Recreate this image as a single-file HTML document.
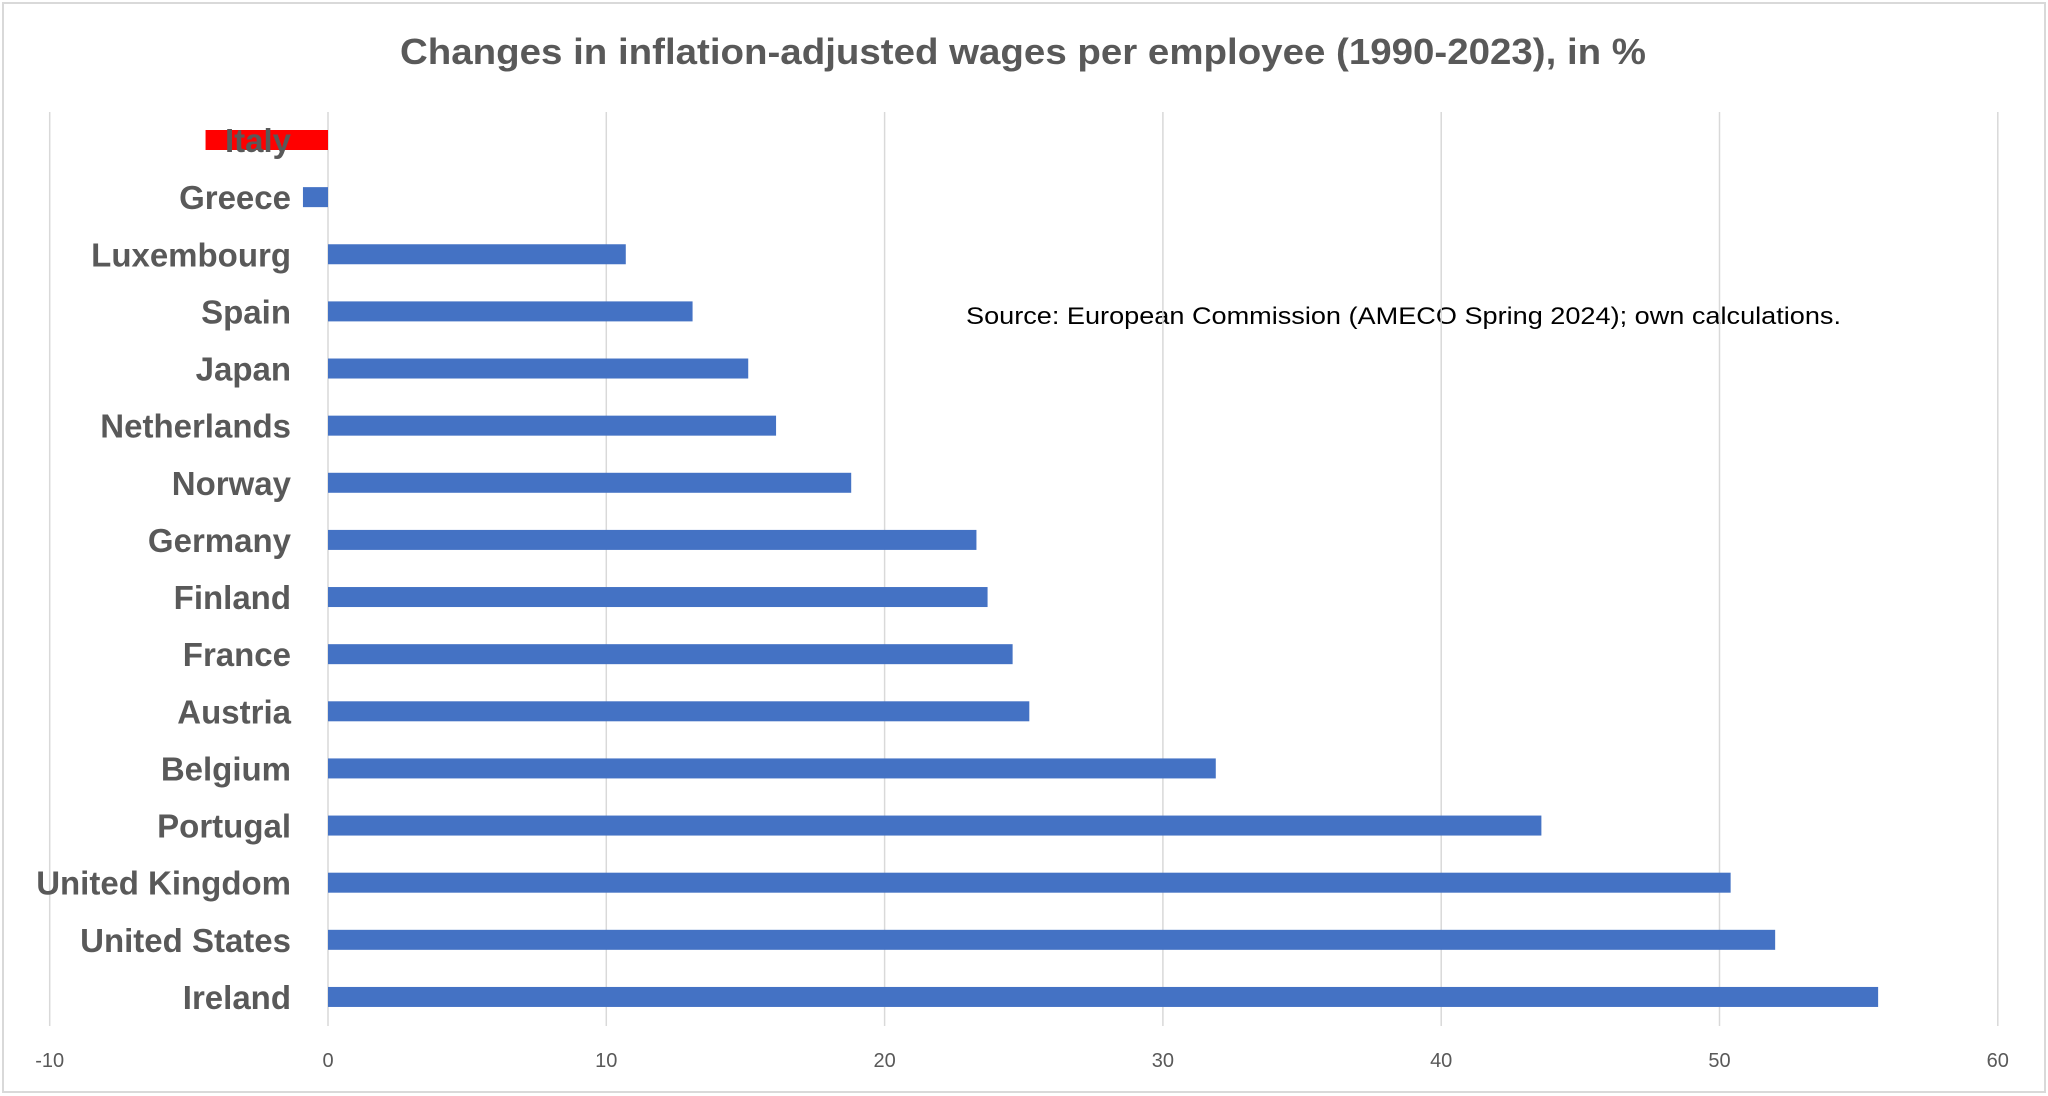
<!DOCTYPE html>
<html><head><meta charset="utf-8"><style>
html,body{margin:0;padding:0;background:#fff;}
svg{display:block;font-family:"Liberation Sans",sans-serif;}
</style></head><body>
<svg id="chart" width="2048" height="1096" viewBox="0 0 2048 1096" xmlns="http://www.w3.org/2000/svg">
<rect x="3" y="3" width="2042" height="1089" fill="#fff" stroke="#d9d9d9" stroke-width="2"/>
<text x="1023" y="64" text-anchor="middle" font-size="36" font-weight="bold" fill="#595959" textLength="1246" lengthAdjust="spacingAndGlyphs">Changes in inflation-adjusted wages per employee (1990-2023), in %</text>
<text x="966" y="324" font-size="24" fill="#000" textLength="875" lengthAdjust="spacingAndGlyphs">Source: European Commission (AMECO Spring 2024); own calculations.</text>
<g id="grid"></g><g id="bars"></g><g id="labels"></g><g id="ticks"></g>
</svg>
<script>
const countries = ["Italy","Greece","Luxembourg","Spain","Japan","Netherlands","Norway","Germany","Finland","France","Austria","Belgium","Portugal","United Kingdom","United States","Ireland"];
const values = [-4.4,-0.9,10.7,13.1,15.1,16.1,18.8,23.3,23.7,24.6,25.2,31.9,43.6,50.4,52.0,55.7];
const tickValues = [-10,0,10,20,30,40,50,60];
const tickLabels = ["-10","0","10","20","30","40","50","60"];
const NS="http://www.w3.org/2000/svg";
const x0=328, pxPerUnit=27.83;
function xScale(v){return x0+v*pxPerUnit;}
const yTop=140, step=57.13;
function yScale(i){return yTop+i*step;}
function mk(tag,attrs,parent){const e=document.createElementNS(NS,tag);for(const k in attrs)e.setAttribute(k,attrs[k]);parent.appendChild(e);return e;}
const grid=document.getElementById('grid'),bars=document.getElementById('bars'),labels=document.getElementById('labels'),ticks=document.getElementById('ticks');
tickValues.forEach((t,i)=>{
  const l=mk('line',{x1:xScale(t),x2:xScale(t),y1:112,y2:1026,stroke:'#d9d9d9','stroke-width':1.5},grid);
  
  
  const tx=mk('text',{x:xScale(t),y:1067,'text-anchor':'middle','font-size':20,fill:'#595959'},ticks);
  tx.textContent=tickLabels[i];
  
  
});
countries.forEach((c,i)=>{
  const v=values[i], cy=yScale(i), h=20;
  const r=mk('rect',{x:Math.min(xScale(0),xScale(v)),y:cy-h/2,width:Math.abs(xScale(v)-xScale(0)),height:h,fill:c==="Italy"?'#ff0000':'#4472c4'},bars);
  
  
  const t=mk('text',{x:291,y:cy+12,'text-anchor':'end','font-size':33,'font-weight':'bold',fill:'#595959'},labels);
  t.textContent=c;
  
  
});
</script>
</body></html>
